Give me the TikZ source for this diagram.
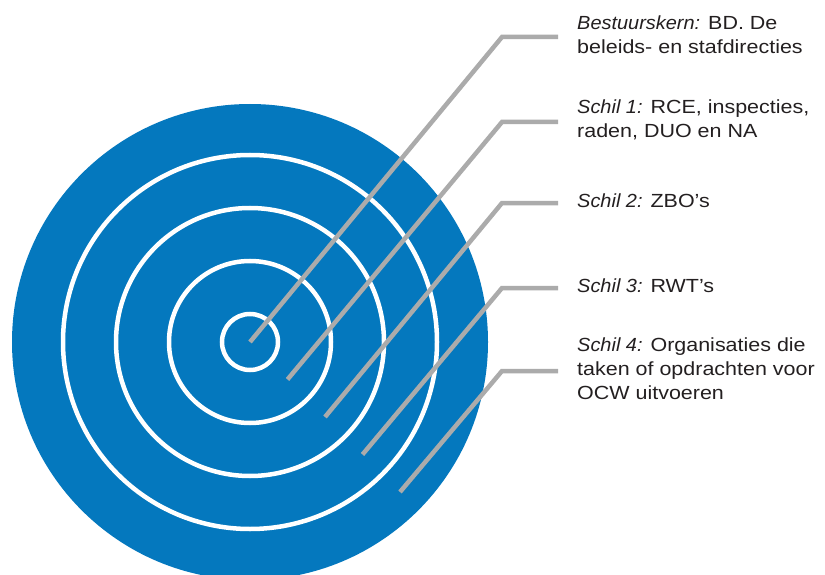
\documentclass[tikz,border=0pt]{standalone}
\usepackage{fontspec}
\setmainfont{Liberation Sans}[UprightFeatures={FakeStretch=1.13},ItalicFeatures={FakeStretch=1.05}]
\definecolor{shellblue}{HTML}{0478BE}
\definecolor{pointergray}{HTML}{ABABAB}
\definecolor{labelink}{HTML}{231F20}

\begin{document}
\begin{tikzpicture}[x=1pt,y=-1pt,
    ring/.style={draw=white,line width=4.5pt},
    pointer/.style={draw=pointergray,line width=4.5pt},
    shell/.style={anchor=west,yshift=2.5pt,inner xsep=19pt,inner ysep=0pt,align=left,
      text=labelink,font=\fontsize{19}{24}\selectfont}]
\useasboundingbox (0,0) rectangle (825,575);
\coordinate (O) at (250,342);
\fill[shellblue] (O) circle[radius=238];
\foreach \r in {28,81,134,187}
  \draw[ring] (O) circle[radius=\r];
\foreach \i in {0,...,4}
  \coordinate (tip\i) at (250+37.5*\i,342+37.5*\i);
\coordinate (bend0) at (502,37);
\coordinate (bend1) at (502,122);
\coordinate (bend2) at (502,203);
\coordinate (bend3) at (502,288);
\coordinate (bend4) at (502,371);
\node[shell] (kern) at (558,37) {{\itshape Bestuurskern:} BD. De\\beleids- en stafdirecties};
\node[shell] (schil1) at (558,122) {{\itshape Schil 1:} RCE, inspecties,\\raden, DUO en NA};
\node[shell] (schil2) at (558,203) {{\itshape Schil 2:} ZBO’s};
\node[shell] (schil3) at (558,288) {{\itshape Schil 3:} RWT’s};
\node[shell] (schil4) at (558,371) {{\itshape Schil 4:} Organisaties die\\taken of opdrachten voor\\OCW uitvoeren};
\draw[pointer] (tip0) -- (bend0) -- (bend0 -| kern.west);
\draw[pointer] (tip1) -- (bend1) -- (bend1 -| schil1.west);
\draw[pointer] (tip2) -- (bend2) -- (bend2 -| schil2.west);
\draw[pointer] (tip3) -- (bend3) -- (bend3 -| schil3.west);
\draw[pointer] (tip4) -- (bend4) -- (bend4 -| schil4.west);
\end{tikzpicture}
\end{document}
